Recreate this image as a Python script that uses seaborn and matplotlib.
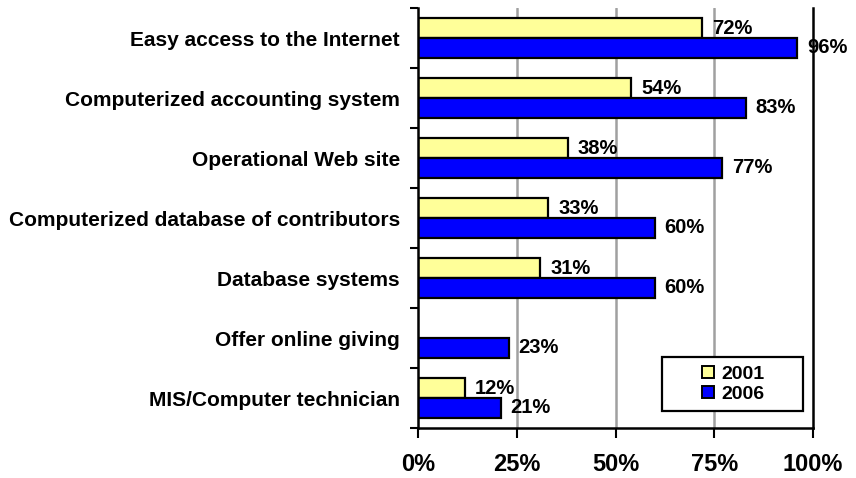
import numpy as np
import pandas as pd
import matplotlib
matplotlib.use("Agg")
import matplotlib.pyplot as plt
from matplotlib.ticker import FixedLocator
from matplotlib.lines import Line2D
from matplotlib.patches import Rectangle
import seaborn as sns

categories = [
    "Easy access to the Internet",
    "Computerized accounting system",
    "Operational Web site",
    "Computerized database of contributors",
    "Database systems",
    "Offer online giving",
    "MIS/Computer technician",
]
years = ["2001", "2006"]
values_2001 = [72, 54, 38, 33, 31, np.nan, 12]
values_2006 = [96, 83, 77, 60, 60, 23, 21]
x_ticks = [0, 25, 50, 75, 100]
colors = {"2001": "#FFFF99", "2006": "#0000FF"}

df = pd.DataFrame({
    "category": categories * 2,
    "year": [years[0]] * len(categories) + [years[1]] * len(categories),
    "value": values_2001 + values_2006,
})

sns.set_theme(style="white", rc={
    "text.color": "black", "axes.labelcolor": "black",
    "xtick.color": "black", "ytick.color": "black",
})
plt.rcParams["font.family"] = ["Liberation Sans", "DejaVu Sans"]
plt.rcParams["font.weight"] = "bold"

fig = plt.figure(figsize=(8.56, 4.78), dpi=100)
ax = fig.add_axes([418 / 856, 1 - 428 / 478, 395 / 856, 420 / 478])

sns.barplot(
    data=df, y="category", x="value", hue="year", order=categories,
    hue_order=years, palette=colors, orient="h", width=0.66,
    edgecolor="black", linewidth=1.6, saturation=1, ax=ax, legend=False,
)

ax.set_xlim(0, 100)
ax.set_ylim(len(categories) - 0.5, -0.5)
ax.set_xlabel("")
ax.set_ylabel("")

# vertical grid lines at the inner x ticks
for gx in x_ticks[1:-1]:
    ax.axvline(gx, color="#a0a0a0", lw=1.8, zorder=0)

# x axis
ax.set_xticks(x_ticks)
ax.set_xticklabels([f"{t}%" for t in x_ticks], fontsize=17, fontweight="bold")
ax.tick_params(axis="x", direction="out", length=7, width=1.5, color="black",
               pad=11, bottom=True)

# y axis: labels at category centres, tick marks on category boundaries
ax.set_yticks(range(len(categories)))
ax.set_yticklabels(categories, fontsize=15, fontweight="bold")
ax.tick_params(axis="y", which="major", length=0, pad=13)
ax.yaxis.set_minor_locator(FixedLocator(np.arange(-0.5, len(categories), 1.0)))
ax.tick_params(axis="y", which="minor", direction="out", length=6, width=1.5,
               color="black", left=True)

for side in ["left", "bottom", "right"]:
    ax.spines[side].set_visible(True)
    ax.spines[side].set_color("black")
    ax.spines[side].set_linewidth(1.8)
ax.spines["top"].set_visible(False)

# value labels at the end of each bar
for patch in ax.patches:
    w = patch.get_width()
    if np.isnan(w) or w == 0:
        continue
    y = patch.get_y() + patch.get_height() / 2
    ax.annotate(f"{w:.0f}%", xy=(w, y), xytext=(7, 0),
                textcoords="offset points", va="center", ha="left",
                fontsize=14.5, fontweight="bold", annotation_clip=False)

# legend: entries centred in a wider framed box
handles = [
    Line2D([0], [0], marker="s", linestyle="", markersize=8.5,
           markerfacecolor=colors[y], markeredgecolor="black",
           markeredgewidth=1.4, label=y)
    for y in years
]
box_x0, box_y0, box_x1, box_y1 = 662 / 856, 1 - 411 / 478, 803 / 856, 1 - 357 / 478
frame = Rectangle((box_x0, box_y0), box_x1 - box_x0, box_y1 - box_y0,
                  transform=fig.transFigure, facecolor="white",
                  edgecolor="black", linewidth=1.6, zorder=4, clip_on=False)
ax.add_artist(frame)
leg = ax.legend(handles=handles, loc="center",
                bbox_to_anchor=((box_x0 + box_x1) / 2, (box_y0 + box_y1) / 2),
                bbox_transform=fig.transFigure, frameon=False,
                borderpad=0.2, handlelength=0.7, handletextpad=0.35,
                labelspacing=0.15, borderaxespad=0,
                prop={"size": 14, "weight": "bold"})
leg.set_zorder(6)

fig.savefig("out.png", dpi=100)
